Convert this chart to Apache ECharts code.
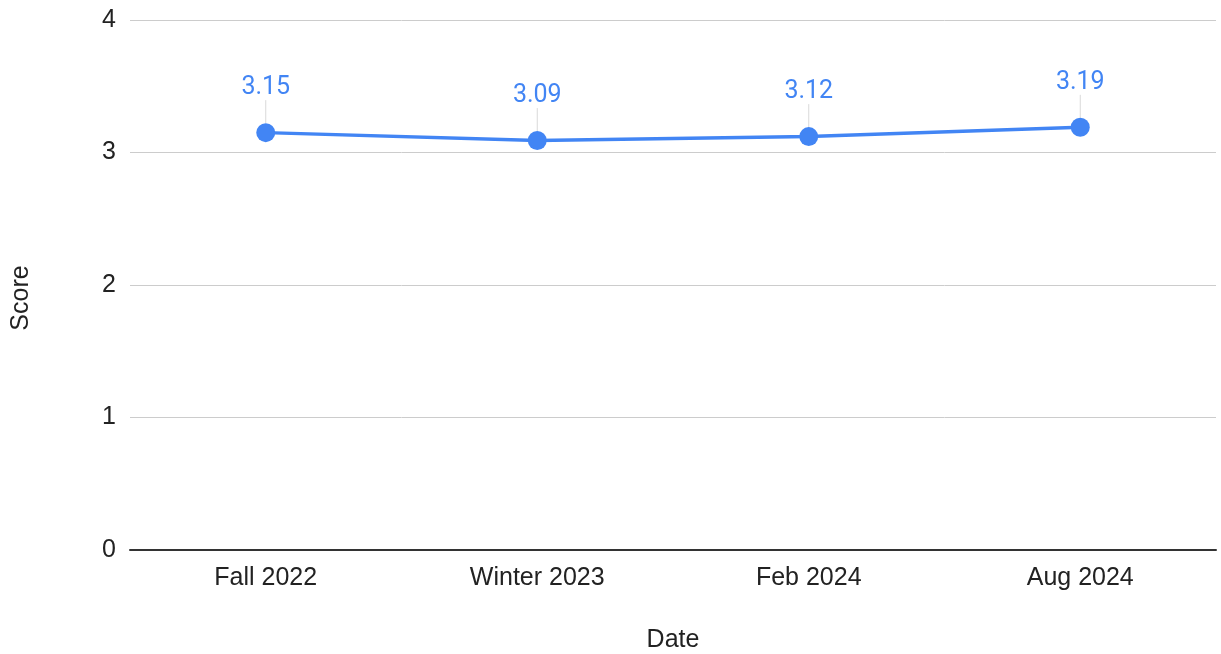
<!DOCTYPE html>
<html>
<head>
<meta charset="utf-8">
<script src="https://cdn.jsdelivr.net/npm/echarts@6/dist/echarts.min.js"></script>
<style>
  html, body { margin: 0; padding: 0; background: #fff; }
  #chart { width: 1221px; height: 654px; }
</style>
</head>
<body>
<div id="chart"></div>
<script>
// chart data
const categories = ['Fall 2022', 'Winter 2023', 'Feb 2024', 'Aug 2024'];
const scores = [3.15, 3.09, 3.12, 3.19];
const yTicks = [0, 1, 2, 3, 4];

const chart = echarts.init(document.getElementById('chart'));
const font = '"Liberation Sans", Arial, sans-serif';

chart.setOption({
    animation: false,
    grid: { left: 130, right: 5, top: 20, bottom: 104, outerBoundsMode: 'none' },
    xAxis: {
        type: 'category',
        data: categories,
        name: 'Date',
        nameLocation: 'middle',
        nameGap: 78,
        nameTextStyle: { color: '#222', fontSize: 25, fontFamily: font },
        axisLine: { lineStyle: { color: '#333', width: 2 } },
        axisTick: { show: false },
        axisLabel: { color: '#222', fontSize: 25, fontFamily: font, margin: 16 }
    },
    yAxis: {
        type: 'value',
        min: yTicks[0],
        max: yTicks[yTicks.length - 1],
        interval: 1,
        name: 'Score',
        nameLocation: 'middle',
        nameGap: 96,
        nameTextStyle: { color: '#222', fontSize: 25, fontFamily: font, padding: [0, 26, 0, 0] },
        axisLine: { show: false },
        axisTick: { show: false },
        axisLabel: { color: '#222', fontSize: 25, fontFamily: font, margin: 14 },
        splitLine: { lineStyle: { color: '#cccccc', width: 1 } }
    },
    series: [{
        type: 'line',
        data: scores,
        color: '#4285f4',
        lineStyle: { width: 3.5 },
        symbol: 'circle',
        symbolSize: 19,
        label: {
            show: true,
            position: 'top',
            distance: 4,
            color: '#4285f4',
            fontSize: 25,
            fontFamily: 'Roboto, Arial, sans-serif'
        },
        labelLayout: { dy: -19 },
        labelLine: { show: true, lineStyle: { color: '#d9d9d9', width: 1 } }
    }]
});
</script>
</body>
</html>
